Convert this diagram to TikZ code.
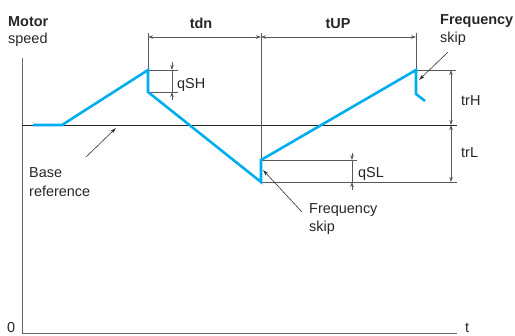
\documentclass[tikz,border=0pt]{standalone}
\usepackage{fontspec}
\setmainfont{Liberation Sans}
\usetikzlibrary{arrows.meta}
\definecolor{mblue}{RGB}{0,174,239}

\begin{document}
\begin{tikzpicture}[
  x=1bp, y=-1bp,
  speed/.style={draw=mblue, line width=2.6bp, line join=miter},
  axis/.style={draw=gray!80!black, line width=1bp},
  baseline/.style={draw=black!85, line width=0.8bp},
  guide/.style={draw=gray!70!black, line width=0.6bp},
  dimarrow/.style={guide, {Stealth[length=5bp,width=3.5bp]}-{Stealth[length=5bp,width=3.5bp]}},
  tip/.style={guide, -{Stealth[length=5bp,width=3.5bp]}},
  pointer/.style={draw=black!80, line width=0.6bp, -{Stealth[length=6bp,width=3.5bp]}},
  note/.style={anchor=base west, inner sep=0pt, text=black!85,
    font=\fontsize{14.5}{17}\selectfont},
  notebold/.style={note, font=\fontsize{14.5}{17}\selectfont\bfseries}
]
\useasboundingbox (0,0) rectangle (515,335);

% ============================================================
% Axes and base reference
% ============================================================

\coordinate (origin) at (22,333);
\coordinate (ytop) at (22,58);
\coordinate (xend) at (457,333);
\coordinate (base0) at (22,125);
\coordinate (base1) at (457,125);

\draw[axis] (ytop) -- (origin) -- (xend);
\draw[baseline] (base0) -- (base1);

\node[note] (zero) at (7,332.5) {0};
\node[note] (tlbl) at (465,332.5) {t};
\node[notebold] (motor) at (8,26) {Motor};
\node[note] (speedlbl) at (8,43) {speed};

% ============================================================
% Speed curve
% ============================================================

\coordinate (s0) at (33,125);
\coordinate (s1) at (62,125);
\coordinate (hpk) at (148,70);
\coordinate (hsk) at (148,92);
\coordinate (lpk) at (261,182);
\coordinate (lsk) at (261,160);
\coordinate (upk) at (416,70);
\coordinate (usk) at (416,94);
\coordinate (uend) at (425,101);

% ============================================================
% Time dimensions
% ============================================================

\coordinate (tleft) at (148,33);
\coordinate (tmid) at (261,33);
\coordinate (tright) at (416,33);
\coordinate (dA) at (148,37);
\coordinate (dB) at (261,37);
\coordinate (dC) at (416,37);

\draw[guide] (tleft) -- (hpk);
\draw[guide] (tmid) -- (lsk);
\draw[guide] (tright) -- (upk);
\draw[dimarrow] (dA) -- (dB);
\draw[dimarrow] (dB) -- (dC);

\node[notebold, anchor=base] (tdn) at (201,28) {tdn};
\node[notebold, anchor=base] (tup) at (338,28) {tUP};

% ============================================================
% Skip hysteresis qSH / qSL
% ============================================================

\coordinate (qshe1) at (178,70);
\coordinate (qshe2) at (178,92);
\coordinate (qshT) at (172,62);
\coordinate (qshA) at (172,70);
\coordinate (qshC) at (172,92);
\coordinate (qshB) at (172,100);

\draw[guide] (hpk) -- (qshe1);
\draw[guide] (hsk) -- (qshe2);
\draw[guide] (qshA) -- (qshC);
\draw[tip] (qshT) -- (qshA);
\draw[tip] (qshB) -- (qshC);
\node[note] (qsh) at (177,88) {qSH};

\coordinate (qsle1) at (357,160);
\coordinate (qsle2) at (457,182);
\coordinate (qslT) at (352,153);
\coordinate (qslA) at (352,160);
\coordinate (qslC) at (352,182);
\coordinate (qslB) at (352,190);

\draw[guide] (lsk) -- (qsle1);
\draw[guide] (lpk) -- (qsle2);
\draw[guide] (qslA) -- (qslC);
\draw[tip] (qslT) -- (qslA);
\draw[tip] (qslB) -- (qslC);
\node[note] (qsl) at (358,177) {qSL};

% ============================================================
% Ramp ranges trH / trL
% ============================================================

\coordinate (trhe) at (456,70);
\coordinate (trA) at (451,70);
\coordinate (trB) at (451,125);
\coordinate (trC) at (451,182);

\draw[guide] (upk) -- (trhe);
\draw[dimarrow] (trA) -- (trB);
\draw[dimarrow] (trB) -- (trC);
\node[note] (trh) at (461,105) {trH};
\node[note] (trl) at (461,157) {trL};

% blue curve on top of the guides
\draw[speed] (s0) -- (s1) -- (hpk) -- (hsk) -- (lpk) -- (lsk) -- (upk) -- (usk) -- (uend);

% ============================================================
% Callouts
% ============================================================

\node[notebold] (fsk1) at (440,24) {Frequency};
\node[note] (skip1) at (440,42) {skip};
\coordinate (p1s) at (448,52);
\coordinate (p1e) at (419,80);
\draw[pointer] (p1s) -- (p1e);

\node[note] (base) at (29,177) {Base};
\node[note] (reference) at (29,196) {reference};
\coordinate (p2s) at (86,157);
\coordinate (p2e) at (116,128);
\draw[pointer] (p2s) -- (p2e);

\node[note] (fsk2) at (309,213) {Frequency};
\node[note] (skip2) at (309,231) {skip};
\coordinate (p3s) at (302,212);
\coordinate (p3e) at (263,170);
\draw[pointer] (p3s) -- (p3e);

\end{tikzpicture}
\end{document}
